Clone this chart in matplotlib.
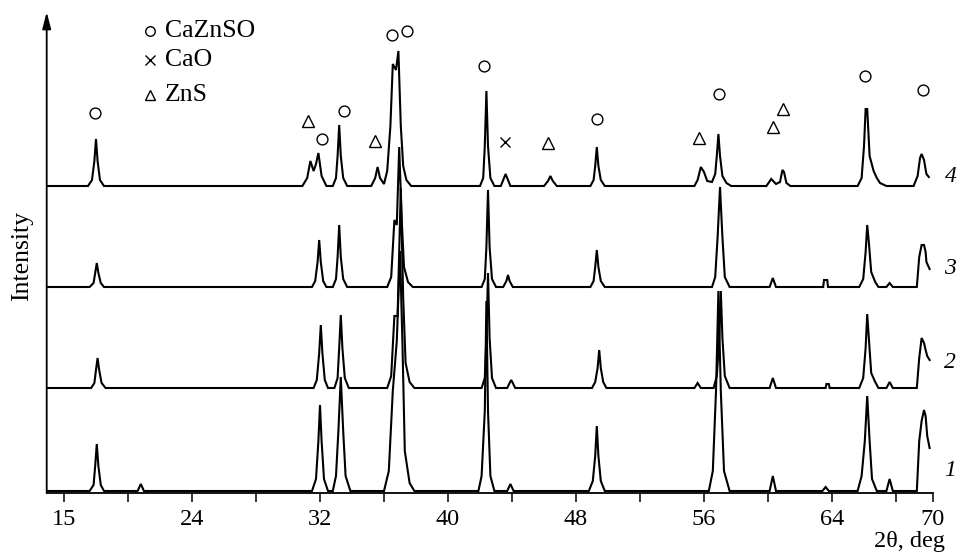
import matplotlib
matplotlib.use("Agg")
import matplotlib.pyplot as plt

plt.rcParams['font.family'] = ['Liberation Serif', 'DejaVu Serif']

# ---- data (2theta, deg ; intensity, arbitrary units) ----
x4 = [15.0,
      17.5, 17.75, 17.9, 18.0, 18.1, 18.25, 18.5,
      30.9, 31.2, 31.4, 31.6, 31.75, 31.9, 32.1, 32.4,
      32.8, 33.0, 33.1, 33.2, 33.3, 33.45, 33.7,
      35.2, 35.45, 35.6, 35.75, 36.0,
      36.2, 36.4, 36.55, 36.75, 36.9, 37.05, 37.2, 37.4, 37.7,
      42.0, 42.2, 42.3, 42.4, 42.5, 42.65, 42.9,
      43.3, 43.5, 43.6, 43.7, 43.9,
      46.0, 46.25, 46.4, 46.55, 46.8,
      48.9, 49.1, 49.2, 49.3, 49.4, 49.55, 49.8,
      55.4, 55.6, 55.8, 56.0, 56.2, 56.5, 56.7, 56.8, 56.9, 57.0, 57.15, 57.4, 57.7,
      59.9, 60.2, 60.5, 60.75, 60.9, 61.0, 61.15, 61.4,
      65.6, 65.85, 66.0, 66.1, 66.2, 66.35, 66.6, 66.8, 67.0, 67.4,
      69.1, 69.35, 69.5, 69.6, 69.75, 69.9, 70.05]
y4 = [0,
      0, 6, 25, 47, 25, 6, 0,
      0, 8, 25, 15, 22, 33, 10, 0,
      0, 8, 30, 61, 30, 8, 0,
      0, 8, 19, 8, 2,
      15, 60, 122, 116, 135, 60, 20, 6, 0,
      0, 8, 40, 95, 40, 8, 0,
      0, 8, 12, 8, 0,
      0, 5, 10, 5, 0,
      0, 6, 20, 39, 20, 6, 0,
      0, 6, 19, 14, 5, 4, 12, 30, 52, 30, 10, 3, 0,
      0, 7, 2, 4, 16, 14, 3, 0,
      0, 8, 40, 77, 77, 30, 15, 8, 3, 0,
      0, 10, 28, 32, 26, 12, 9]

x3 = [15.0,
      17.6, 17.85, 17.95, 18.05, 18.15, 18.3, 18.5,
      31.5, 31.7, 31.85, 31.95, 32.05, 32.2, 32.4,
      32.8, 33.0, 33.1, 33.2, 33.3, 33.45, 33.7,
      36.2, 36.45, 36.65, 36.8, 36.95, 37.1, 37.25, 37.5, 37.8,
      42.1, 42.3, 42.4, 42.5, 42.6, 42.75, 43.0,
      43.45, 43.65, 43.75, 43.85, 44.05,
      48.9, 49.1, 49.2, 49.3, 49.4, 49.55, 49.8,
      56.5, 56.7, 56.85, 57.0, 57.15, 57.3, 57.6,
      60.1, 60.3, 60.5,
      63.45, 63.5, 63.7, 63.75,
      65.7, 65.95, 66.1, 66.2, 66.3, 66.45, 66.7, 66.9,
      67.4, 67.6, 67.8,
      69.3, 69.45, 69.6, 69.75, 69.85, 69.9, 70.1]
y3 = [0,
      0, 4, 14, 24, 14, 4, 0,
      0, 6, 25, 47, 25, 6, 0,
      0, 8, 30, 62, 30, 8, 0,
      0, 10, 67, 62, 140, 70, 20, 5, 0,
      0, 8, 40, 97, 40, 8, 0,
      0, 6, 12, 6, 0,
      0, 6, 20, 37, 20, 6, 0,
      0, 10, 50, 100, 50, 10, 0,
      0, 9, 0,
      0, 7, 7, 0,
      0, 8, 35, 62, 45, 15, 5, 0,
      0, 4, 0,
      0, 30, 42, 42, 35, 25, 18]

x2 = [15.0,
      17.7, 17.9, 18.0, 18.1, 18.2, 18.35, 18.6,
      31.6, 31.8, 31.95, 32.05, 32.15, 32.3, 32.5,
      32.9, 33.1, 33.2, 33.3, 33.4, 33.55, 33.8,
      36.2, 36.45, 36.65, 36.85, 37.05, 37.2, 37.35, 37.6, 37.9,
      42.1, 42.3, 42.4, 42.5, 42.6, 42.75, 43.0,
      43.7, 43.85, 43.95, 44.05, 44.2,
      49.0, 49.2, 49.35, 49.45, 49.55, 49.7, 49.9,
      55.4, 55.6, 55.8,
      56.6, 56.8, 56.95, 57.05, 57.15, 57.3, 57.6,
      60.1, 60.3, 60.5,
      63.6, 63.65, 63.8, 63.85,
      65.7, 65.95, 66.1, 66.2, 66.3, 66.45, 66.7, 66.9,
      67.4, 67.6, 67.8,
      69.3, 69.45, 69.6, 69.75, 69.85, 69.95, 70.1]
y2 = [0,
      0, 5, 18, 30, 18, 5, 0,
      0, 8, 35, 63, 35, 8, 0,
      0, 10, 40, 73, 40, 10, 0,
      0, 12, 72, 72, 200, 90, 25, 6, 0,
      0, 10, 50, 115, 50, 10, 0,
      0, 5, 8, 5, 0,
      0, 6, 20, 38, 20, 6, 0,
      0, 5, 0,
      0, 12, 50, 97, 50, 12, 0,
      0, 10, 0,
      0, 4, 4, 0,
      0, 10, 40, 74, 50, 15, 6, 0,
      0, 6, 0,
      0, 30, 50, 45, 38, 32, 28]

x1 = [15.0,
      17.6, 17.85, 17.95, 18.05, 18.15, 18.3, 18.5,
      20.6, 20.8, 21.0,
      31.5, 31.75, 31.9, 32.0, 32.1, 32.25, 32.5,
      32.8, 33.0, 33.15, 33.3, 33.45, 33.6, 33.9,
      36.0, 36.3, 36.55, 36.8, 37.0, 37.15, 37.3, 37.6, 37.9,
      41.9, 42.1, 42.3, 42.4, 42.5, 42.65, 42.9,
      43.7, 43.9, 44.1,
      48.8, 49.05, 49.2, 49.3, 49.4, 49.55, 49.8,
      56.3, 56.55, 56.75, 56.9, 57.05, 57.25, 57.6,
      60.1, 60.3, 60.5,
      63.4, 63.6, 63.8,
      65.6, 65.85, 66.05, 66.2, 66.35, 66.5, 66.8,
      67.4, 67.6, 67.8,
      69.3, 69.45, 69.6, 69.75, 69.85, 69.95, 70.1]
y1 = [0,
      0, 6, 25, 47, 25, 6, 0,
      0, 7, 0,
      0, 12, 50, 86, 50, 12, 0,
      0, 15, 60, 114, 60, 15, 0,
      0, 20, 100, 150, 240, 150, 40, 8, 0,
      0, 15, 80, 190, 80, 15, 0,
      0, 7, 0,
      0, 10, 35, 65, 35, 10, 0,
      0, 20, 100, 200, 100, 20, 0,
      0, 15, 0,
      0, 4, 0,
      0, 15, 50, 95, 50, 12, 0,
      0, 12, 0,
      0, 50, 70, 81, 75, 55, 43]

curve_x = [x1, x2, x3, x4]
curve_y = [y1, y2, y3, y4]
curve_offsets = [2, 105, 206, 307]
curve_labels = ['1', '2', '3', '4']
curve_label_y = [23, 131, 225, 316]

# phase markers above curve 4: 'o' CaZnSO, 'x' CaO, '^' ZnS
marker_x = [17.94, 31.25, 32.1, 33.5, 35.44, 36.5, 37.44, 42.25, 43.56, 46.25,
            49.31, 55.69, 56.94, 60.31, 60.94, 66.06, 69.69]
marker_y = [380, 372, 354, 382, 352, 458, 462, 427, 351, 350,
            374, 355, 399, 366, 384, 417, 403]
marker_kind = ['o', '^', 'o', 'o', '^', 'o', 'o', 'o', 'x', '^',
               'o', '^', 'o', '^', '^', 'o', 'o']

legend_kinds = ['o', 'x', '^']
legend_names = ['CaZnSO', 'CaO', 'ZnS']

tick_pos = [16, 24, 32, 40, 48, 56, 64, 70.3]
tick_labels = ['15', '24', '32', '40', '48', '56', '64', '70']
minor_pos = [20, 28, 36, 44, 52, 60, 68]

# ---- figure ----
W, H = 958, 560
fig = plt.figure(figsize=(W / 100, H / 100), dpi=100)
ax = fig.add_axes([46.7 / W, (H - 493) / H, (933.3 - 46.7) / W, 481 / H])
ax.set_xlim(14.92, 70.33)
ax.set_ylim(0, 481)

for xs, ys, off in zip(curve_x, curve_y, curve_offsets):
    ax.plot(xs, [v + off for v in ys], color='black', lw=1.5,
            solid_joinstyle='miter', clip_on=False)

for lab, ly in zip(curve_labels, curve_label_y):
    ax.text(71.4, ly, lab, fontsize=17, style='italic', ha='center',
            va='center', clip_on=False)

msize = {'o': 7.8, 'x': 7.5, '^': 8.0}
for mx, my, mk in zip(marker_x, marker_y, marker_kind):
    ax.plot([mx], [my], marker=mk, ms=msize[mk], mfc='none', mec='black',
            mew=1.0, ls='none', clip_on=False)

leg_y = [462, 433, 398]
for mk, name, ly in zip(legend_kinds, legend_names, leg_y):
    ax.plot([21.375], [ly], marker=mk, ms=msize[mk] * 0.88, mfc='none',
            mec='black', mew=1.0, ls='none')
    ax.text(22.3, ly, name, fontsize=18.5, ha='left', va='center')

# axes styling
for s in ['top', 'right', 'left']:
    ax.spines[s].set_visible(False)
ax.spines['bottom'].set_linewidth(1.3)
ax.set_xticks(tick_pos)
ax.set_xticklabels(tick_labels)
ax.set_xticks(minor_pos, minor=True)
ax.tick_params(axis='x', which='both', direction='out', length=6.5, width=1.1,
               labelsize=17.5, pad=5)
ax.set_yticks([])

ax.annotate('', xy=(0, 1.0), xytext=(0, 0), xycoords='axes fraction',
            textcoords='axes fraction',
            arrowprops=dict(arrowstyle='-|>,head_length=0.5,head_width=0.13',
                            mutation_scale=20, lw=1.3, color='black',
                            shrinkA=0, shrinkB=0))

fig.text(945 / W, 1 - 541 / H, '2θ, deg', fontsize=17.5, ha='right', va='center')
fig.text(22 / W, 1 - 256 / H, 'Intensity', fontsize=18.5, rotation=90,
         ha='center', va='center')

fig.savefig('out.png', dpi=100)
